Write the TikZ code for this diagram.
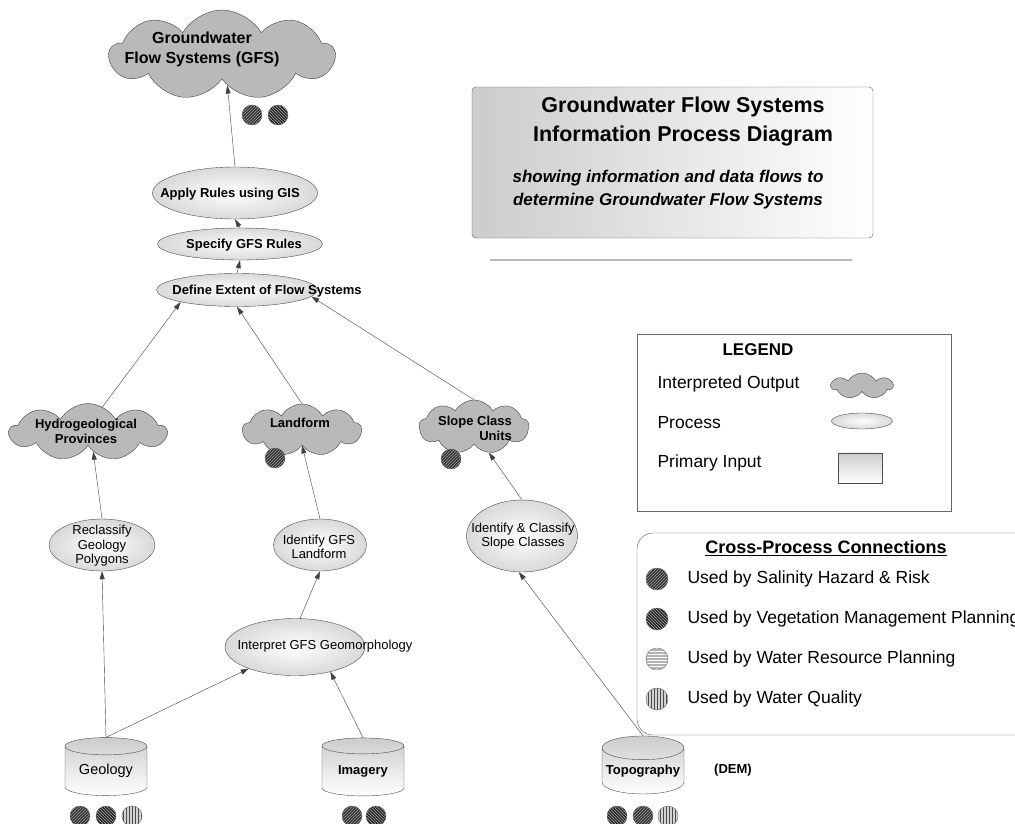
\documentclass[tikz,border=0pt]{standalone}
\usepackage{fontspec}
\setmainfont{Liberation Sans}
\usetikzlibrary{arrows.meta,calc,shapes.geometric,shapes.symbols,patterns}

\tikzset{
  outcloud/.style={cloud, cloud puffs=9, cloud puff arc=120, cloud ignores aspect,
    draw=black!75, fill=gray!55, inner sep=0pt},
  proc/.style={ellipse, draw=black!70, inner color=white, outer color=gray!30, inner sep=0pt},
  dbase/.style={cylinder, shape border rotate=90, aspect=0.32, draw=black!70,
    top color=gray!40, bottom color=white, inner sep=0pt,
    minimum width=82pt, minimum height=58pt,
    path picture={
      \fill[gray!50] let \p1=(path picture bounding box.north west),
        \p2=(path picture bounding box.north east) in
        ($(\p1)!.5!(\p2)+(0,{0.08*(\x2-\x1)})$)
        ellipse [x radius={0.5*(\x2-\x1)}, y radius={0.08*(\x2-\x1)}];
    }},
  ptext/.style={align=center, inner sep=0pt, font=\fontsize{13}{14.5}\selectfont},
  ptextb/.style={ptext, font=\bfseries\fontsize{13}{15}\selectfont},
  ltext/.style={anchor=west, font=\fontsize{17.5}{20}\selectfont},
  flow/.style={draw=black!75, -{Triangle[length=8pt,width=5pt]}},
  dot/.style={circle, draw=black!60, minimum size=20pt, inner sep=0pt},
  saldot/.style={dot, preaction={fill=gray!40!black}, pattern=north east lines, pattern color=gray!75},
  vegdot/.style={dot, preaction={fill=gray!25!black}, pattern=north west lines, pattern color=gray!60},
  wrpdot/.style={dot, preaction={fill=gray!60}, pattern=horizontal lines, pattern color=white},
  wqdot/.style={dot, preaction={fill=gray!35}, pattern=vertical lines, pattern color=black!70},
}

\begin{document}
\begin{tikzpicture}[x=1pt,y=-1pt]
  \useasboundingbox (0,0) rectangle (1015,823);
  \clip (0,0) rectangle (1015,823);

  % heading box
  \node[draw=black!65, rounded corners=4pt, left color=gray!40, right color=white,
    minimum width=401pt, minimum height=151pt] (head) at (672.5,162.5) {};
  \node[font=\bfseries\fontsize{21.5}{29}\selectfont, align=center] (headtxt) at (683,121) {Groundwater Flow Systems\\Information Process Diagram};
  \node[font=\bfseries\itshape\fontsize{17}{23}\selectfont, align=center] (subtxt) at (668,190) {showing information and data flows to\\determine Groundwater Flow Systems};
  \draw[gray!55, line width=1.2pt] (490,260) -- (852,260);

  % legend
  \node[draw=black!60, minimum width=314pt, minimum height=177pt] (legend) at (794,422.5) {};
  \node[font=\bfseries\fontsize{17}{20}\selectfont] (legtitle) at (758,350) {LEGEND};
  \node[ltext] (lout) at (654,384) {Interpreted Output};
  \node[ltext] (lproc) at (654,423) {Process};
  \node[ltext] (linp) at (654,463) {Primary Input};
  \node[outcloud, cloud puffs=7, minimum width=61pt, minimum height=26pt] (lcloud) at (862,386) {};
  \node[proc, minimum width=61pt, minimum height=16pt] (lell) at (862,421) {};
  \node[dbase, minimum width=44pt, minimum height=30pt] (lcyl) at (860,468) {};

  % cross-process connections
  \node[draw=black!65, rounded corners=16pt, minimum width=403pt, minimum height=202pt] (xbox) at (838.5,634) {};
  \node[font=\bfseries\fontsize{18}{20}\selectfont] (xtitle) at (826,548) {\underline{Cross-Process Connections}};
  \foreach \s/\t [count=\i] in {saldot/Salinity Hazard \& Risk, vegdot/Vegetation Management Planning,
      wrpdot/Water Resource Planning, wqdot/Water Quality} {
    \node[\s, minimum size=22pt] (xdot\i) at (657,539+40*\i) {};
    \node[ltext] (xtxt\i) at (684,539+40*\i) {Used by \t};
  }

  % outputs
  \node[outcloud, minimum width=225pt, minimum height=90pt] (gfs) at (222,55) {};
  \node[font=\bfseries\fontsize{16}{20}\selectfont, align=center] (gfstxt) at (202,49) {Groundwater\\Flow Systems (GFS)};
  \node[outcloud, minimum width=157pt, minimum height=57pt] (hydro) at (88,432) {};
  \node[ptextb] (hydrotxt) at (86,431) {Hydrogeological\\Provinces};
  \node[outcloud, minimum width=119pt, minimum height=52pt] (land) at (302,430) {};
  \node[ptextb] (landtxt) at (300,423) {Landform};
  \node[outcloud, minimum width=110pt, minimum height=54pt] (slope) at (474,427) {};
  \node[ptextb, align=right] (slopetxt) at (475,428) {Slope Class\\Units};

  % processes
  \node[proc, minimum width=165pt, minimum height=52pt] (apply) at (235,193) {};
  \node[ptextb] (applytxt) at (230,194) {Apply Rules using GIS};
  \node[proc, minimum width=165pt, minimum height=32pt] (spec) at (240,244) {};
  \node[ptextb] (spectxt) at (244,245) {Specify GFS Rules};
  \node[proc, minimum width=161pt, minimum height=33pt] (def) at (237,290) {};
  \node[ptextb] (deftxt) at (267,291) {Define Extent of Flow Systems};
  \node[proc, minimum width=106pt, minimum height=52pt] (recl) at (102,545) {};
  \node[ptext] (recltxt) at (102,546) {Reclassify\\Geology\\Polygons};
  \node[proc, minimum width=93pt, minimum height=52pt] (idland) at (320,545) {};
  \node[ptext] (idlandtxt) at (319,547) {Identify GFS\\Landform};
  \node[proc, minimum width=111pt, minimum height=72pt] (idslope) at (522,536) {};
  \node[ptext] (idslopetxt) at (523,536) {Identify \& Classify\\Slope Classes};
  \node[proc, minimum width=140pt, minimum height=57pt] (interp) at (295,647) {};
  \node[ptext] (interptxt) at (325,646) {Interpret GFS Geomorphology};

  % primary inputs
  \node[dbase, font=\fontsize{14.5}{16}\selectfont] (geo) at (106,771) {\raisebox{-3pt}{Geology}};
  \node[dbase, font=\bfseries\fontsize{13}{16}\selectfont] (img) at (363,771) {\raisebox{-4pt}{Imagery}};
  \node[dbase, font=\bfseries\fontsize{13}{16}\selectfont] (topo) at (643,771) {\raisebox{-1pt}{Topography}};
  \node[font=\bfseries\fontsize{13}{16}\selectfont] (dem) at (733,770) {(DEM)};

  % usage markers
  \node[saldot] (gfsd1) at (252,115) {};
  \node[vegdot] (gfsd2) at (278,115) {};
  \node[saldot] (landd) at (275,458) {};
  \node[saldot] (sloped) at (451,459) {};
  \node[saldot] (geod1) at (80,816) {};
  \node[vegdot] (geod2) at (106,816) {};
  \node[wqdot] (geod3) at (132,816) {};
  \node[saldot] (imgd1) at (352,816) {};
  \node[vegdot] (imgd2) at (376,816) {};
  \node[vegdot] (topod1) at (617,816) {};
  \node[saldot] (topod2) at (643,816) {};
  \node[wqdot] (topod3) at (668,816) {};

  % flows
  \draw[flow] (apply.north) -- (gfs.-80);
  \draw[flow] (spec.north) -- (apply.south);
  \draw[flow] (def.north) -- (spec.south);
  \draw[flow] (hydro.60) -- (def.192);
  \draw[flow] (land.north) -- (def.south);
  \draw[flow] (slope.north) -- (def.355);
  \draw[flow] (recl.north) -- (hydro.-75);
  \draw[flow] (idland.north) -- (land.south);
  \draw[flow] (idslope.north) -- (slope.-60);
  \draw[flow] (interp.80) -- (idland.south);
  \draw[flow] (geo.north) -- (recl.south);
  \draw[flow] (geo.north) -- (interp.205);
  \draw[flow] (img.north) -- (interp.-35);
  \draw[flow] (topo.north) -- (idslope.-95);
\end{tikzpicture}
\end{document}
